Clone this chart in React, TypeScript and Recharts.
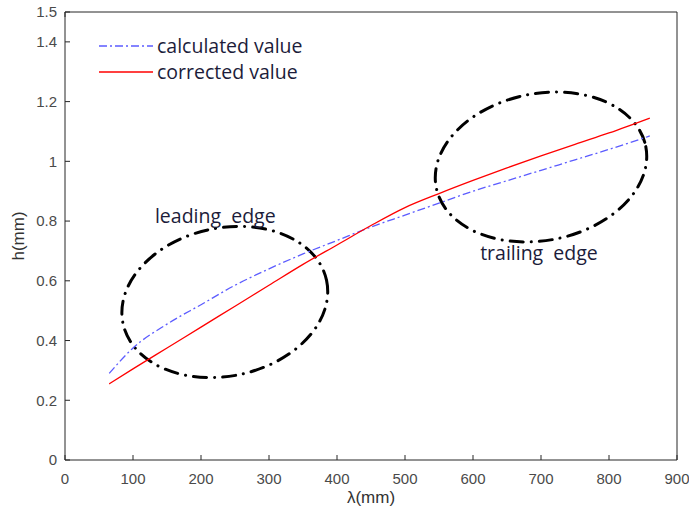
import {
  LineChart,
  Line,
  XAxis,
  YAxis,
  ReferenceArea,
  ReferenceDot,
  Legend,
  Label,
} from "recharts";

// λ (mm) sample positions
const lambda = [65, 100, 150, 200, 250, 300, 350, 400, 450, 500, 550, 600, 650, 700, 750, 800, 860];
// h (mm)
const calculated = [0.29, 0.375, 0.455, 0.52, 0.585, 0.64, 0.69, 0.735, 0.78, 0.82, 0.86, 0.9, 0.935, 0.97, 1.005, 1.04, 1.085];
const corrected = [0.255, 0.305, 0.375, 0.445, 0.515, 0.585, 0.655, 0.72, 0.785, 0.845, 0.892, 0.936, 0.978, 1.018, 1.057, 1.095, 1.145];

const xTicks = [0, 100, 200, 300, 400, 500, 600, 700, 800, 900];
const yTicks = [0, 0.2, 0.4, 0.6, 0.8, 1, 1.2, 1.4, 1.5];

const seriesNames = ["calculated value", "corrected value"];

const data = lambda.map((l, i) => ({
  lambda: l,
  calculated: calculated[i],
  corrected: corrected[i],
}));

const AXIS = "#262626";
const TICK_FONT = { fontFamily: "Liberation Sans, Arial, sans-serif", fontSize: 15, fill: "#4a4a4a" };
const NOTE_FONT = "Open Sans, sans-serif";
const NOTE_COLOR = "#1c1c3a";

const BLUE = "#5c5cff";
const RED = "#ff0000";

const ellipseShape = (rot: number) => (props: any) => {
  const { x, y, width, height } = props;
  const cx = x + width / 2;
  const cy = y + height / 2;
  return (
    <ellipse
      cx={cx}
      cy={cy}
      rx={Math.abs(width) / 2}
      ry={Math.abs(height) / 2}
      transform={`rotate(${rot} ${cx} ${cy})`}
      fill="none"
      stroke="#000"
      strokeWidth={3}
      strokeDasharray="13 8 0.1 8"
      strokeLinecap="round"
    />
  );
};

const noteShape = (text: string) => (props: any) => (
  <text
    x={props.cx}
    y={props.cy}
    textAnchor="middle"
    dominantBaseline="central"
    fontFamily={NOTE_FONT}
    fontSize={19.5}
    fill={NOTE_COLOR}
    style={{ whiteSpace: "pre" }}
  >
    {text}
  </text>
);

function renderLegend() {
  const styles = [
    { color: BLUE, dash: "8 3 2 3" },
    { color: RED, dash: undefined },
  ];
  return (
    <div>
      {seriesNames.map((name, i) => (
        <div key={name} style={{ display: "flex", alignItems: "center", height: 26 }}>
          <svg width={56} height={26}>
            <line x1={0} y1={13} x2={54} y2={13} stroke={styles[i].color} strokeWidth={1.3} strokeDasharray={styles[i].dash} />
          </svg>
          <span style={{ fontFamily: NOTE_FONT, fontSize: 19.5, color: NOTE_COLOR, marginLeft: 2, lineHeight: "26px" }}>
            {name}
          </span>
        </div>
      ))}
    </div>
  );
}

export default function App() {
  return (
    <div style={{ position: "absolute", left: 0, top: 0 }}>
      <LineChart width={689} height={511} data={data} margin={{ top: 11, right: 11, bottom: 0, left: 0 }}>
        <XAxis
          dataKey="lambda"
          type="number"
          domain={[0, 900]}
          ticks={xTicks}
          height={51}
          stroke={AXIS}
          tick={TICK_FONT}
          tickSize={-5}
          tickMargin={18}
        >
          <Label
            value="λ(mm)"
            position="insideBottom"
            offset={8}
            fill="#333"
            fontSize={17}
            fontFamily="Liberation Sans, Arial, sans-serif"
          />
        </XAxis>
        <XAxis
          xAxisId="top"
          orientation="top"
          type="number"
          domain={[0, 900]}
          ticks={xTicks}
          height={1}
          stroke={AXIS}
          tickFormatter={() => ""}
          tickSize={-5}
        />
        <YAxis
          type="number"
          domain={[0, 1.5]}
          ticks={yTicks}
          width={65}
          stroke={AXIS}
          tick={TICK_FONT}
          tickSize={-5}
          tickMargin={13}
          tickFormatter={(v: number) => String(v)}
        >
          <Label
            value="h(mm)"
            position="insideLeft"
            angle={-90}
            offset={18}
            fill="#333"
            fontSize={17}
            fontFamily="Liberation Sans, Arial, sans-serif"
            style={{ textAnchor: "middle" }}
          />
        </YAxis>
        <YAxis
          yAxisId="right"
          orientation="right"
          type="number"
          domain={[0, 1.5]}
          ticks={yTicks}
          width={1}
          stroke={AXIS}
          tickFormatter={() => ""}
          tickSize={-5}
        />

        <ReferenceArea x1={82} x2={388} y1={0.281} y2={0.777} shape={ellipseShape(-12)} ifOverflow="visible" />
        <ReferenceArea x1={543} x2={857} y1={0.735} y2={1.227} shape={ellipseShape(-11)} ifOverflow="visible" />
        <ReferenceDot x={221} y={0.817} r={0} shape={noteShape("leading  edge")} ifOverflow="visible" />
        <ReferenceDot x={697} y={0.696} r={0} shape={noteShape("trailing  edge")} ifOverflow="visible" />

        <Line
          type="monotone"
          dataKey="calculated"
          name={seriesNames[0]}
          stroke={BLUE}
          strokeWidth={1.3}
          strokeDasharray="8 3 2 3"
          dot={false}
          isAnimationActive={false}
        />
        <Line
          type="monotone"
          dataKey="corrected"
          name={seriesNames[1]}
          stroke={RED}
          strokeWidth={1.3}
          dot={false}
          isAnimationActive={false}
        />
        <Legend
          layout="vertical"
          align="center"
          verticalAlign="middle"
          wrapperStyle={{ left: 99, top: 33, width: "auto" }}
          content={renderLegend}
        />
      </LineChart>
    </div>
  );
}
